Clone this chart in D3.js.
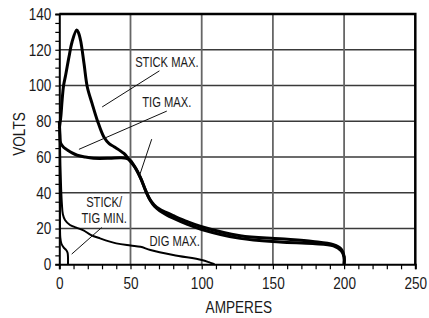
<!DOCTYPE html>
<html>
<head>
<meta charset="utf-8">
<script src="https://cdn.jsdelivr.net/npm/d3@7"></script>
<style>
  body { margin: 0; background: #fff; }
  text { font-family: "Liberation Sans", Arial, sans-serif; fill: #1a1a1a; }
</style>
</head>
<body>
<div id="chart"></div>
<script>
"use strict"

// amperes, volts
const stickMax = [[0, 76], [1, 82], [2, 92], [3, 100], [4.5, 106], [6.8, 116], [9, 124.5],
  [12.2, 131], [13.5, 129.5], [15, 125], [17.4, 112], [19.7, 99], [23, 90], [26.7, 80.5],
  [31.4, 71], [35, 67.5], [38.4, 65.8], [45.4, 62], [49, 58.5], [53.7, 53.7], [57, 48.5],
  [60.5, 41.5], [63.5, 36.5], [66.5, 33.3], [70, 31], [75, 29], [80, 27.2], [90, 23.8],
  [100, 21], [127, 16], [155, 14.3], [178, 12.8], [192.5, 11], [198, 8.5], [200, 4.3], [200, 0]];

const tigMax = [[0, 80], [0.5, 72], [1, 67.7], [3, 65.5], [5.6, 64], [9, 62.3], [12.6, 61],
  [18, 60], [24, 59.3], [35, 59.3], [43, 59.6], [47, 59.3], [50, 58], [54, 53], [57.5, 47.5],
  [61, 40.5], [64, 35.5], [67, 32.3], [70.5, 30], [75, 27.8], [80, 25.8], [90, 22.3],
  [100, 19.5], [127, 14.5], [155, 12.5], [178, 11.6], [192.5, 10.3], [198, 7.5], [200, 4], [200, 0]];

const digMax = [[0.3, 75], [0.8, 55], [1.3, 42], [1.8, 34], [2.5, 28], [4, 24.8], [7.5, 22],
  [12, 20.5], [17, 19], [22, 16.5], [28.6, 14.5], [40, 11.7], [50, 10.5], [57, 9.8],
  [64, 8], [80, 5.2], [100, 2.4], [105, 1.2], [109, 0]];

const stickTigMin = [[0.2, 75], [0.3, 50], [0.5, 30], [0.7, 15], [1.5, 11.5], [3, 9.5],
  [4.8, 8], [5.8, 6.5], [6.1, 4], [6.1, 0]];

const xTicks = [0, 50, 100, 150, 200, 250];
const yTicks = [0, 20, 40, 60, 80, 100, 120, 140];

const curves = [
  {name: "stickTigMin", data: stickTigMin, width: 2},
  {name: "digMax", data: digMax, width: 2},
  {name: "tigMax", data: tigMax, width: 3},
  {name: "stickMax", data: stickMax, width: 3},
];

// labels: text lines, anchor point (data), pointer lines (data coords)
const labels = [
  {lines: ["STICK MAX."], at: [75.5, 110.6], pointers: [[[70.3, 108.2], [30.1, 88]]]},
  {lines: ["TIG MAX."], at: [75.5, 88], pointers: [[[75.5, 85.7], [13.8, 64.3]], [[64.9, 70], [56.7, 50.5]]]},
  {lines: ["STICK/", "TIG MIN."], at: [31.5, 31.9], pointers: [[[29.8, 20.6], [8.7, 5.7]]]},
  {lines: ["DIG MAX."], at: [81, 10.2], pointers: []},
];

const W = 429, H = 318;
const m = {left: 59.3, right: 13.7, top: 14, bottom: 53.7};
const squeeze = 0.8;   // the original type is a condensed face

const svg = d3.select("#chart").append("svg")
  .attr("width", W).attr("height", H);

const x = d3.scaleLinear().domain([0, 250]).range([m.left, W - m.right]);
const y = d3.scaleLinear().domain([0, 140]).range([H - m.bottom, m.top]);

// grid
svg.append("g")
  .selectAll("line")
  .data(yTicks.slice(1, -1))
  .join("line")
    .attr("x1", x(0)).attr("x2", x(250))
    .attr("y1", d => y(d)).attr("y2", d => y(d))
    .attr("stroke", "#3a3a3a").attr("stroke-width", 1.5);

svg.append("g")
  .selectAll("line")
  .data(xTicks.slice(1, -1))
  .join("line")
    .attr("x1", d => x(d)).attr("x2", d => x(d))
    .attr("y1", y(0)).attr("y2", y(140))
    .attr("stroke", "#666").attr("stroke-width", 1.8);

// top and right borders
svg.append("path")
  .attr("d", `M${x(0)},${y(140)}H${x(250)}V${y(0)}`)
  .attr("fill", "none").attr("stroke", "#000").attr("stroke-width", 2.5);

// axes
const xAxis = svg.append("g")
  .attr("transform", `translate(0,${y(0)})`)
  .call(d3.axisBottom(x)
    .tickValues(d3.range(0, 251, 10))
    .tickSize(5)
    .tickPadding(8)
    .tickFormat(d => xTicks.includes(d) ? d : ""));

const yAxis = svg.append("g")
  .attr("transform", `translate(${x(0)},0)`)
  .call(d3.axisLeft(y)
    .tickValues(d3.range(0, 141, 5))
    .tickSize(4)
    .tickPadding(4)
    .tickFormat(d => yTicks.includes(d) ? d : ""));

[xAxis, yAxis].forEach(a => {
  a.select(".domain").attr("stroke", "#000").attr("stroke-width", 2);
  a.selectAll(".tick line").attr("stroke", "#000").attr("stroke-width", 1.2);
  a.selectAll(".tick text")
    .attr("fill", "#1a1a1a")
    .style("font-size", "17px")
    .style("font-family", "'Liberation Sans', Arial, sans-serif");
});
xAxis.selectAll(".tick text").attr("transform", `scale(${squeeze},1)`);
yAxis.selectAll(".tick text")
  .attr("x", -8 / squeeze)
  .attr("transform", `scale(${squeeze},1)`);

// axis titles
svg.append("text")
  .attr("transform", `translate(${(x(0) + x(250)) / 2 + 1.5},313.3) scale(${squeeze},1)`)
  .attr("text-anchor", "middle")
  .style("font-size", "17px")
  .text("AMPERES");

svg.append("text")
  .attr("transform", `translate(25,134) rotate(-90) scale(${squeeze},1)`)
  .attr("text-anchor", "middle")
  .style("font-size", "17px")
  .text("VOLTS");

// curves
const line = d3.line()
  .x(d => x(d[0]))
  .y(d => y(d[1]))
  .curve(d3.curveCatmullRom.alpha(0.5));

svg.append("g")
  .selectAll("path")
  .data(curves)
  .join("path")
    .attr("d", d => line(d.data))
    .attr("fill", "none")
    .attr("stroke", "#000")
    .attr("stroke-width", d => d.width)
    .attr("stroke-linejoin", "round");

// pointer lines
svg.append("g")
  .selectAll("line")
  .data(labels.flatMap(l => l.pointers))
  .join("line")
    .attr("x1", d => x(d[0][0])).attr("y1", d => y(d[0][1]))
    .attr("x2", d => x(d[1][0])).attr("y2", d => y(d[1][1]))
    .attr("stroke", "#111").attr("stroke-width", 1);

// curve labels, one text per line
svg.append("g")
  .selectAll("text")
  .data(labels.flatMap(l => l.lines.map((t, i) => ({t, i, at: l.at}))))
  .join("text")
    .attr("text-anchor", "middle")
    .style("font-size", "14px")
    .attr("transform", d => `translate(${x(d.at[0])},${y(d.at[1]) + d.i * 15.4}) scale(${squeeze},1)`)
    .text(d => d.t);
</script>
</body>
</html>
